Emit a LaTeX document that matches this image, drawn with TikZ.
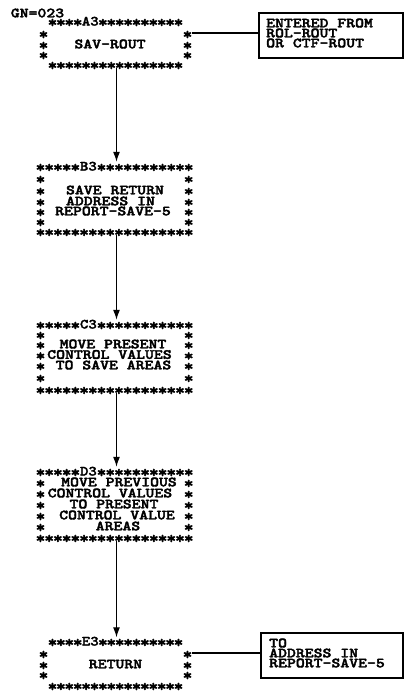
\documentclass[tikz,border=0pt]{standalone}
\usepackage{fontspec}
\usetikzlibrary{arrows.meta}
\newfontfamily\tfont[FakeBold=2.5,FakeStretch=1.21]{lmmonolt10-bold.otf}
\newfontfamily\afont[FakeBold=2,FakeStretch=1.15]{lmmonolt10-bold.otf}
\newcommand\pf{\fontsize{14}{14}\tfont}
\newcommand\pa{\fontsize{14}{14}\afont}
\def\apw{8.72pt}
\newcommand\ai{\makebox[\apw]{\raisebox{-2pt}{\fontsize{16.5}{16.5}\selectfont *}}}
\newcommand\lab[1]{\makebox[2\dimexpr\apw\relax]{#1}}
\newcommand\stars[1]{\foreach\j in {1,...,#1}{\ai}}
\tikzset{
  ast/.style={font=\pa, inner sep=0pt, anchor=base},
  txt/.style={font=\pf, inner sep=0pt, anchor=base},
  txtl/.style={font=\pf, inner sep=0pt, anchor=base west},
  area/.style={draw=none, inner sep=0pt, minimum width=150pt},
  rbox/.style={draw=black, line width=1.3pt, inner sep=0pt},
  conn/.style={draw=black, line width=1.2pt},
  arr/.style={draw=black, line width=1.2pt, -{Latex[length=10pt,width=7pt]}}
}
% row of asterisks as one text: name, centre x, row y, content
\newcommand\srow[4]{\node[ast] (#1) at (#2,{#3+4.5}) {#4};}
% side columns: left x, right x, list of y, name prefix
\newcommand\scol[4]{\foreach \r [count=\k] in {#3}{\node[ast] (#4l\k) at (#1,{\r+4.5}) {\ai};\node[ast] (#4r\k) at (#2,{\r+4.5}) {\ai};}}
% text line centred / left: name, x, y, text
\newcommand\tl[4]{\node[txt] (#1) at (#2,{#3+4.3}) {#4};}
\newcommand\tll[4]{\node[txtl] (#1) at (#2,{#3+4.3}) {#4};}
\begin{document}
\begin{tikzpicture}[x=1pt,y=-1pt]
\fill[white] (0,0) rectangle (405,694);
\useasboundingbox (0,0) rectangle (405,694);
\tl{gn}{37.5}{13}{GN=023}

% ---------- A3 (terminal)
\srow{A3top}{115.5}{21}{\def\apw{8.4pt}\stars{4}\lab{A3}\stars{10}}
\scol{43.5}{187.5}{33,44,54}{A3s}
\srow{A3bot}{115.5}{64}{\def\apw{8.4pt}\stars{16}}
\tl{A3x}{110}{44}{SAV-ROUT}
\node[area, minimum height=51pt] (A3) at (116.5,42.5) {};

% ---------- B3
\srow{B3top}{114.6}{166}{\stars{5}\lab{B3}\stars{11}}
\scol{40.5}{188.7}{178,190,201,211,221}{B3s}
\srow{B3bot}{114.6}{231}{\stars{18}}
\tl{B3x1}{115}{190}{SAVE RETURN}
\tl{B3x2}{110.5}{201}{ADDRESS IN}
\tl{B3x3}{113}{211}{REPORT-SAVE-5}
\node[area, minimum height=73pt] (B3) at (116.5,198.5) {};

% ---------- C3
\srow{C3top}{114.6}{324}{\stars{5}\lab{C3}\stars{11}}
\scol{40.5}{188.7}{334,344,354.5,365,377}{C3s}
\srow{C3bot}{114.6}{389}{\stars{18}}
\tl{C3x1}{113}{344}{MOVE PRESENT}
\tl{C3x2}{109.5}{354.5}{CONTROL VALUES}
\tl{C3x3}{113.5}{365}{TO SAVE AREAS}
\node[area, minimum height=73pt] (C3) at (116.5,356.5) {};

% ---------- D3
\srow{D3top}{114.6}{471}{\stars{5}\lab{D3}\stars{11}}
\scol{40.5}{188.7}{482,493,504,515,526}{D3s}
\srow{D3bot}{114.6}{537}{\stars{18}}
\tl{D3x1}{119}{482}{MOVE PREVIOUS}
\tl{D3x2}{110}{493}{CONTROL VALUES}
\tl{D3x3}{114}{504}{TO PRESENT}
\tl{D3x4}{117}{515}{CONTROL VALUE}
\tl{D3x5}{118}{526}{AREAS}
\node[area, minimum height=74pt] (D3) at (116.5,504) {};

% ---------- E3 (terminal)
\srow{E3top}{115.5}{641}{\def\apw{8.4pt}\stars{4}\lab{E3}\stars{10}}
\scol{43.5}{187.5}{653,664,674}{E3s}
\srow{E3bot}{115.5}{685}{\def\apw{8.4pt}\stars{16}}
\tl{E3x}{115.5}{664}{RETURN}
\node[area, minimum height=52pt] (E3) at (116.5,663.5) {};

% ---------- side boxes
\node[rbox, minimum width=144pt, minimum height=45pt] (R1) at (331,35.5) {};
\tll{R1a}{266}{23}{ENTERED FROM}
\tll{R1b}{266}{33}{ROL-ROUT}
\tll{R1c}{266}{43}{OR CTF-ROUT}
\node[rbox, minimum width=142pt, minimum height=45pt] (R2) at (332,655.5) {};
\tll{R2a}{269}{643}{TO}
\tll{R2b}{269}{653}{ADDRESS IN}
\tll{R2c}{269}{663}{REPORT-SAVE-5}

% ---------- connectors
\coordinate (A3r) at (192,33);
\draw[conn] (A3r) -- (A3r -| R1.west);
\coordinate (E3r) at (192,653);
\draw[conn] (E3r) -- (E3r -| R2.west);
\draw[arr] (A3.south) -- (B3.north);
\draw[arr] (B3.south) -- (C3.north);
\draw[arr] (C3.south) -- (D3.north);
\draw[arr] (D3.south) -- (E3.north);
\end{tikzpicture}
\end{document}
